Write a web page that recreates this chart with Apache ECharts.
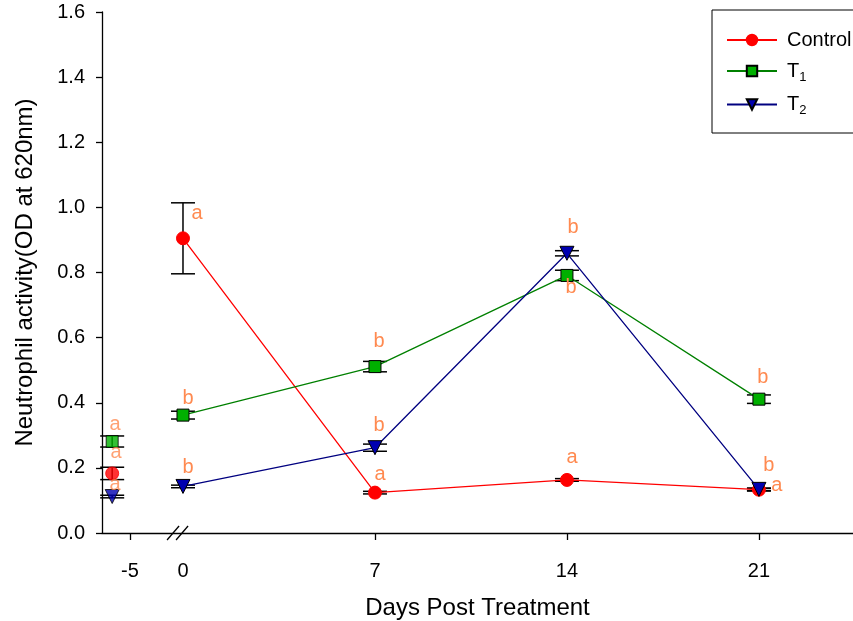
<!DOCTYPE html>
<html>
<head>
<meta charset="utf-8">
<script src="https://cdn.jsdelivr.net/npm/echarts@6/dist/echarts.min.js"></script>
<style>html,body{margin:0;padding:0;background:#fff;}#c{width:853px;height:621px;}</style>
</head>
<body>
<div id="c"></div>
<script>
// ---- data ----
const xTickDays   = [-5, 0, 7, 14, 21];
const xTickLabels = ['-5', '0', '7', '14', '21'];
const tickMarkDays = [-5, 7, 14, 21];           // no tick at 0 (axis break there)
const sampleDays  = [-5.65, 0, 7, 14, 21];      // pre-treatment sample sits just left of the -5 tick
const yTicks = [0, 0.2, 0.4, 0.6, 0.8, 1.0, 1.2, 1.4, 1.6];

const control    = [0.183, 0.905, 0.124, 0.163, 0.133];
const controlErr = [0.019, 0.109, 0.004, 0.004, 0.004];
const t1         = [0.281, 0.362, 0.511, 0.791, 0.411];
const t1Err      = [0.017, 0.012, 0.016, 0.016, 0.013];
const t2         = [0.112, 0.143, 0.262, 0.859, 0.134];
const t2Err      = [0.004, 0.004, 0.011, 0.008, 0.004];

const controlLetters = ['a', 'a', 'a', 'a', 'a'];
const t1Letters      = ['a', 'b', 'b', 'b', 'b'];
const t2Letters      = ['a', 'b', 'b', 'b', 'b'];

// ---- layout / style ----
const FONT = 'Liberation Sans, Arial, sans-serif';
const BREAK_SHIFT = 3.068;          // compresses the pre-treatment segment left of the break
const BREAK_POS = -0.18;
function axisPos(d) { return d < 0 ? d + BREAK_SHIFT : d; }

const letterColor = '#FF8A50';
const controlOffsets = [[4,-21],[14,-25],[5,-18],[5,-22],[18,-4]];
const t1Offsets      = [[3,-17],[5,-17],[4,-25],[4,12],[4,-22]];
const t2Offsets      = [[3,-12],[5,-19],[4,-22],[6,-26],[10,-24]];

const groups = [
  {name:'Control', vals:control, err:controlErr, letters:controlLetters, offs:controlOffsets,
   color:'#FF0000', fill:'#FF0000', border:'#FF0000', symbol:'circle', size:13, rotate:0},
  {name:'T1', vals:t1, err:t1Err, letters:t1Letters, offs:t1Offsets,
   color:'#008000', fill:'#00B000', border:'#000000', symbol:'rect', size:12, rotate:0},
  {name:'T2', vals:t2, err:t2Err, letters:t2Letters, offs:t2Offsets,
   color:'#000080', fill:'#0000B0', border:'#000000', symbol:'triangle', size:14, rotate:180}
];

function pointItem(g, i) {
  return {
    value: [axisPos(sampleDays[i]), g.vals[i]],
    label: {
      show: true, position: 'inside', formatter: g.letters[i],
      offset: g.offs[i], color: letterColor, fontSize: 20, fontFamily: FONT
    }
  };
}

const series = [];
groups.forEach(function (g) {
  series.push({
    type: 'custom', name: g.name + ' err', z: 1,
    renderItem: function (params, api) {
      const x = api.value(0), y = api.value(1), e = api.value(2);
      const top = api.coord([x, y + e]);
      const bot = api.coord([x, y - e]);
      const hw = 12;
      const st = {stroke: '#000', lineWidth: 1.5};
      return {type: 'group', children: [
        {type: 'line', shape: {x1: top[0], y1: top[1], x2: bot[0], y2: bot[1]}, style: st},
        {type: 'line', shape: {x1: top[0]-hw, y1: top[1], x2: top[0]+hw, y2: top[1]}, style: st},
        {type: 'line', shape: {x1: bot[0]-hw, y1: bot[1], x2: bot[0]+hw, y2: bot[1]}, style: st}
      ]};
    },
    encode: {x: 0, y: 1},
    data: sampleDays.map(function (d, i) { return [axisPos(d), g.vals[i], g.err[i]]; }),
    silent: true
  });
});
groups.forEach(function (g) {
  const common = {
    symbol: g.symbol, symbolSize: g.size, symbolRotate: g.rotate,
    itemStyle: {color: g.fill, borderColor: g.border, borderWidth: 1},
    z: 3
  };
  series.push(Object.assign({
    type: 'line', name: g.name,
    lineStyle: {color: g.color, width: 1.3},
    showAllSymbol: true,
    data: [1,2,3,4].map(function (i) { return pointItem(g, i); })
  }, common));
  series.push(Object.assign({
    type: 'scatter', name: g.name + ' pre',
    data: [pointItem(g, 0)]
  }, common));
});

const chart = echarts.init(document.getElementById('c'), null, {renderer: 'canvas'});
chart.setOption({
  animation: false,
  backgroundColor: '#fff',
  textStyle: {fontFamily: FONT},
  grid: {left: 102, right: 0, top: 12, bottom: 88, containLabel: false, outerBoundsMode: 'none'},
  legend: {
    data: ['Control', 'T1', 'T2'],
    orient: 'vertical', left: 712, top: 10,
    padding: [20, 30, 16, 14],
    itemWidth: 50, itemHeight: 13, itemGap: 11,
    borderColor: '#000', borderWidth: 1,
    textStyle: {fontSize: 20, color: '#000', fontFamily: FONT, padding: [0, 0, 0, 5],
      rich: {sub: {fontSize: 13, color: '#000', fontFamily: FONT, padding: [12, 0, 0, 0]}}},
    formatter: function (n) { return n === 'Control' ? n : 'T{sub|' + n.slice(1) + '}'; }
  },
  xAxis: {
    type: 'value',
    min: -2.953, max: 24.43,
    name: 'Days Post Treatment', nameLocation: 'middle', nameGap: 63,
    nameTextStyle: {fontSize: 24, color: '#000', fontFamily: FONT},
    axisLine: {show: true, onZero: false, lineStyle: {color: '#000', width: 1.3}},
    axisTick: {show: true, length: 7, lineStyle: {color: '#000', width: 1.3},
      customValues: tickMarkDays.map(axisPos)},
    axisLabel: {
      customValues: xTickDays.map(axisPos),
      fontSize: 20, color: '#000', margin: 28, fontFamily: FONT,
      formatter: function (v) {
        for (let i = 0; i < xTickDays.length; i++) {
          if (Math.abs(axisPos(xTickDays[i]) - v) < 1e-6) return xTickLabels[i];
        }
        return '';
      }
    },
    splitLine: {show: false}
  },
  yAxis: {
    type: 'value', min: 0, max: 1.6, interval: 0.2,
    name: 'Neutrophil activity(OD at 620nm)', nameLocation: 'middle', nameGap: 65,
    nameTextStyle: {fontSize: 24, color: '#000', fontFamily: FONT},
    axisLine: {show: true, onZero: false, lineStyle: {color: '#000', width: 1.3}},
    axisTick: {show: true, length: 6, lineStyle: {color: '#000', width: 1.3}},
    axisLabel: {fontSize: 20, color: '#000', margin: 17, fontFamily: FONT,
      formatter: function (v) { return v.toFixed(1); }},
    splitLine: {show: false}
  },
  series: series
});

// axis break marks "//"
const bx = chart.convertToPixel({xAxisIndex: 0}, BREAK_POS);
const by = chart.convertToPixel({yAxisIndex: 0}, 0);
chart.setOption({
  graphic: [
    {type: 'line', shape: {x1: bx - 11, y1: by + 7, x2: bx + 1, y2: by - 7}, style: {stroke: '#000', lineWidth: 1.3}, z: 10},
    {type: 'line', shape: {x1: bx - 2, y1: by + 7, x2: bx + 10, y2: by - 7}, style: {stroke: '#000', lineWidth: 1.3}, z: 10}
  ]
});
</script>
</body>
</html>
